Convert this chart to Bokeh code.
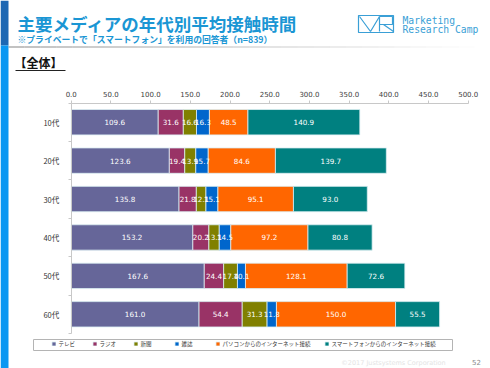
from bokeh.plotting import figure
from bokeh.models import (ColumnDataSource, Range1d, NumeralTickFormatter,
                          FixedTicker, Legend, LegendItem)
from bokeh.core.properties import value
from bokeh.embed import file_html
from bokeh.resources import INLINE
import numpy as np

# ---------------- data ----------------
ages = ["10代", "20代", "30代", "40代", "50代", "60代"]
series_names = ["テレビ", "ラジオ", "新聞", "雑誌",
                "パソコンからのインターネット接続", "スマートフォンからのインターネット接続"]
tv = [109.6, 123.6, 135.8, 153.2, 167.6, 161.0]
radio = [31.6, 19.4, 21.8, 20.2, 24.4, 54.4]
newspaper = [16.6, 13.9, 12.1, 13.1, 17.4, 31.3]
magazine = [16.3, 15.7, 15.1, 14.5, 10.1, 11.8]
pc_net = [48.5, 84.6, 95.1, 97.2, 128.1, 150.0]
sp_net = [140.9, 139.7, 93.0, 80.8, 72.6, 55.5]
x_ticks = [0, 50, 100, 150, 200, 250, 300, 350, 400, 450, 500]
colors = ["#666699", "#993366", "#808000", "#0066cc", "#ff6600", "#008080"]

title_text = "主要メディアの年代別平均接触時間"
subtitle_text = "※プライベートで「スマートフォン」を利用の回答者（n=839）"
section_text = "【全体】"

W, H = 490, 368
XMAX = 500
CL, CR, CT, CB = 70.7, 467.7, 102.5, 333.0   # chart area edges on the page (pixels)
JP = "Noto Sans CJK JP"
NUM = "DejaVu Sans"
BLUE = "#1a96d4"
LOGO = "#3a9fd6"

rows = list(range(len(ages)))               # row index of each age group (top = 0)
n = len(ages)
kx = (CR - CL) / XMAX                       # pixels per minute
ky = (CB - CT) / n                          # pixels per row

keys = ["tv", "radio", "newspaper", "magazine", "pc_net", "sp_net"]
src = ColumnDataSource(dict(row=rows, tv=tv, radio=radio, newspaper=newspaper,
                            magazine=magazine, pc_net=pc_net, sp_net=sp_net))

# the frame covers the whole page; the chart ranges are widened so that the
# chart area sits where it does in the slide
p = figure(width=W, height=H,
           x_range=Range1d(-CL / kx, XMAX + (W - CR) / kx),
           y_range=Range1d(n - 0.5 + (H - CB) / ky, -0.5 - CT / ky),
           x_axis_location="above", toolbar_location=None, output_backend="svg",
           min_border=0, outline_line_color=None)
p.extra_x_ranges = {"px": Range1d(0, W)}
p.extra_y_ranges = {"py": Range1d(H, 0)}

bars = p.hbar_stack(keys, y="row", height=0.66, fill_color=colors, line_color="#dceff2",
                    line_width=0.8, source=src)

# value labels at the middle of each segment
lx, ly, lt = [], [], []
series = [tv, radio, newspaper, magazine, pc_net, sp_net]
for i in rows:
    left = 0.0
    for s in series:
        v = s[i]
        lx.append(left + v / 2.0)
        ly.append(i)
        lt.append(f"{v:.1f}")
        left += v
p.text(x=lx, y=ly, text=lt, text_font=value(NUM), text_font_size="7.2px",
       text_color="white", text_align="center", text_baseline="middle")

p.xgrid.visible = False
p.ygrid.visible = False
p.xaxis.fixed_location = -0.5
p.xaxis.bounds = (0, XMAX)
p.xaxis.ticker = FixedTicker(ticks=x_ticks)
p.xaxis.formatter = NumeralTickFormatter(format="0.0")
p.xaxis.major_label_text_font = NUM
p.xaxis.major_label_text_font_size = "7px"
p.xaxis.major_label_text_color = "#404040"
p.xaxis.axis_line_color = "#c8c8c8"
p.xaxis.major_tick_line_color = "#c8c8c8"
p.xaxis.major_tick_out = 3
p.xaxis.major_tick_in = 0
p.xaxis.minor_tick_line_color = None
p.xaxis.major_label_standoff = 3

p.yaxis.fixed_location = 0
p.yaxis.bounds = (-0.5, n - 0.5)
p.yaxis.ticker = FixedTicker(ticks=rows, minor_ticks=[r - 0.5 for r in rows] + [n - 0.5])
p.yaxis.major_label_overrides = {r: a for r, a in zip(rows, ages)}
p.yaxis.major_label_text_font = JP
p.yaxis.major_label_text_font_size = "7.5px"
p.yaxis.major_label_text_color = "#333333"
p.yaxis.axis_line_color = "#c8c8c8"
p.yaxis.major_tick_line_color = None
p.yaxis.minor_tick_line_color = "#c8c8c8"
p.yaxis.minor_tick_out = 3
p.yaxis.minor_tick_in = 0
p.yaxis.major_label_standoff = 6

# ---------------- decorations (page pixels) ----------------
deco = dict(x_range_name="px", y_range_name="py")

# left stripe
p.quad(left=[0, 0], right=[8, 8], top=[0, 45], bottom=[45, H],
       fill_color=["#1d67b3", "#0a97f2"], line_color=None, **deco)

# gradient rule under the header
gx = np.linspace(8, W, 31)
galpha = list(np.linspace(0.6, 0.0, 30))
p.segment(x0=gx[:-1], y0=[46.5] * 30, x1=gx[1:], y1=[46.5] * 30,
          line_color="#9a9a9a", line_alpha=galpha, line_width=2, **deco)

# logo
p.quad(left=[358], right=[393], top=[15], bottom=[32], fill_color=None,
       line_color=LOGO, line_width=1.2, **deco)
p.multi_line(xs=[[359, 370, 379], [379, 379], [379, 392, 392, 379], [383, 393]],
             ys=[[16, 31, 16], [16, 31], [16, 16, 24, 24], [24, 31]],
             line_color=LOGO, line_width=1.2, **deco)

# underline of the section label
p.segment(x0=[15], y0=[70], x1=[65], y1=[70], line_color="#222222", line_width=1, **deco)

# legend frame
p.quad(left=[33], right=[452], top=[339], bottom=[350], fill_color=None,
       line_color="#b4b4b4", line_width=1, **deco)

# texts
def lab(x, y, text, font, size, color, bold=False, align="left"):
    p.text(x=[x], y=[y], text=[text], text_font=value(font), text_font_size=size,
           text_color=color, text_font_style="bold" if bold else "normal",
           text_baseline="middle", text_align=align, **deco)

lab(17, 22.5, title_text, JP, "17.5px", BLUE, bold=True)
lab(17, 38.5, subtitle_text, JP, "8.8px", BLUE, bold=True)
lab(402, 19.5, "Marketing", "DejaVu Sans Mono", "9.7px", LOGO)
lab(402, 29, "Research Camp", "DejaVu Sans Mono", "9.7px", LOGO)
lab(14, 62, section_text, JP, "12px", "#111111", bold=True)
lab(393, 362, "©2017 Justsystems Corporation", NUM, "6.5px", "#e4e4e4", align="center")
lab(476, 361, "52", NUM, "7px", "#8a8a8a", align="center")

# ---------------- legend ----------------
items = [LegendItem(label=name, renderers=[r]) for name, r in zip(series_names, bars)]
legend = Legend(items=items, orientation="horizontal", location=(50.5, H - 347.5),
                glyph_width=5, glyph_height=5, label_text_font=JP,
                label_text_font_size="5.5px", label_text_color="#333333",
                label_height=6, label_width=20, label_standoff=3, spacing=13,
                padding=0, margin=0, border_line_color=None, background_fill_alpha=0)
p.add_layout(legend, "center")

open("out.html", "w").write(file_html(p, INLINE))
